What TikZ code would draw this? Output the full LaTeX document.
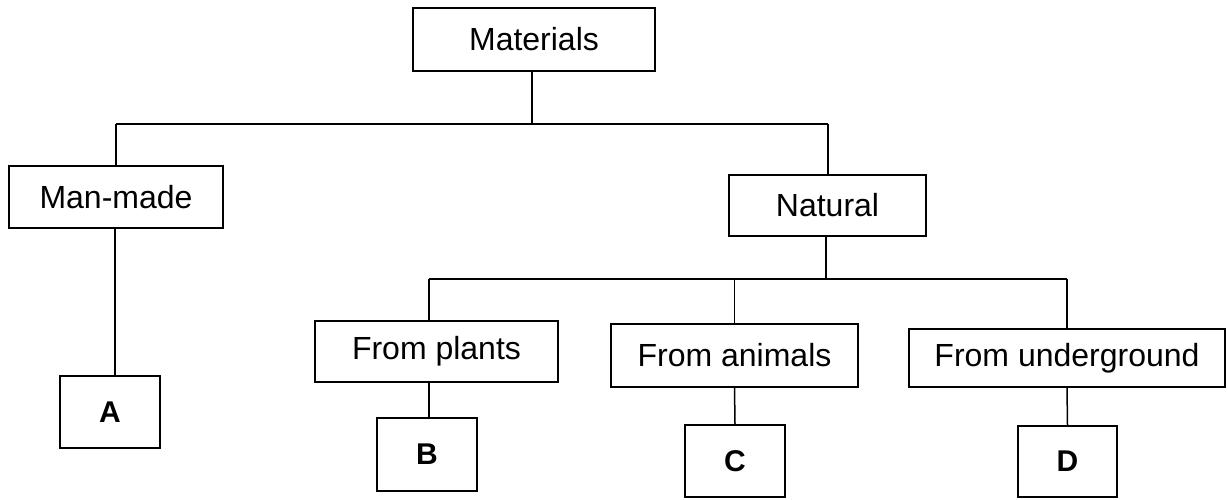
\documentclass[tikz,border=0pt]{standalone}
\usepackage{fontspec}
\setmainfont{Liberation Sans}
\begin{document}
\begin{tikzpicture}[x=1pt,y=-1pt,
  box/.style={draw=black, line width=1.6pt, rectangle, inner sep=0pt,
    font=\fontsize{32}{38}\selectfont},
  letterbox/.style={box, font=\fontsize{30}{36}\selectfont\bfseries},
  link/.style={draw=black, line width=1.5pt}]
\useasboundingbox (0,0) rectangle (1228,499);
\node[box, minimum width=242pt, minimum height=63pt] (materials) at (534,39.5) {Materials};
\node[box, minimum width=214pt, minimum height=62pt] (manmade) at (116,197) {Man-made};
\node[box, minimum width=197pt, minimum height=61pt] (natural) at (827.5,205.5) {Natural};
\node[box, minimum width=243pt, minimum height=61pt] (plants) at (436.5,351.5) {From plants};
\node[box, minimum width=247pt, minimum height=63pt] (animals) at (734.5,355.5) {From animals};
\node[box, minimum width=316pt, minimum height=58pt] (underground) at (1067,358) {From underground};
\node[letterbox, minimum width=100pt, minimum height=72pt] (A) at (110,412) {A};
\node[letterbox, minimum width=100pt, minimum height=73pt] (B) at (427,454.5) {B};
\node[letterbox, minimum width=100pt, minimum height=72pt] (C) at (735,461) {C};
\node[letterbox, minimum width=99pt, minimum height=71pt] (D) at (1067.5,461.5) {D};
% top bus
\coordinate (b1) at (116,124);
\coordinate (b2) at (828,124);
\draw[link] (b1) -- (b2);
\draw[link] (materials.south -| 532,0) -- (b1 -| 532,0);
\draw[link] (b1) -- (b1 |- manmade.north);
\draw[link] (b2) -- (b2 |- natural.north);
\draw[link] (manmade.south -| 115,0) -- (A.north -| 115,0);
% natural bus
\coordinate (n1) at (429,279);
\coordinate (n2) at (1067,279);
\draw[link] (n1) -- (n2);
\draw[link] (natural.south -| 826,0) -- (n1 -| 826,0);
\draw[link] (n1) -- (n1 |- plants.north);
\draw[link] (animals.north |- n1) -- (animals.north);
\draw[link] (n2) -- (underground.north);
\draw[link] (n1 |- plants.south) -- (n1 |- B.north);
\draw[link] (animals.south) -- (C.north);
\draw[link] (underground.south) -- (D.north);
\end{tikzpicture}
\end{document}
